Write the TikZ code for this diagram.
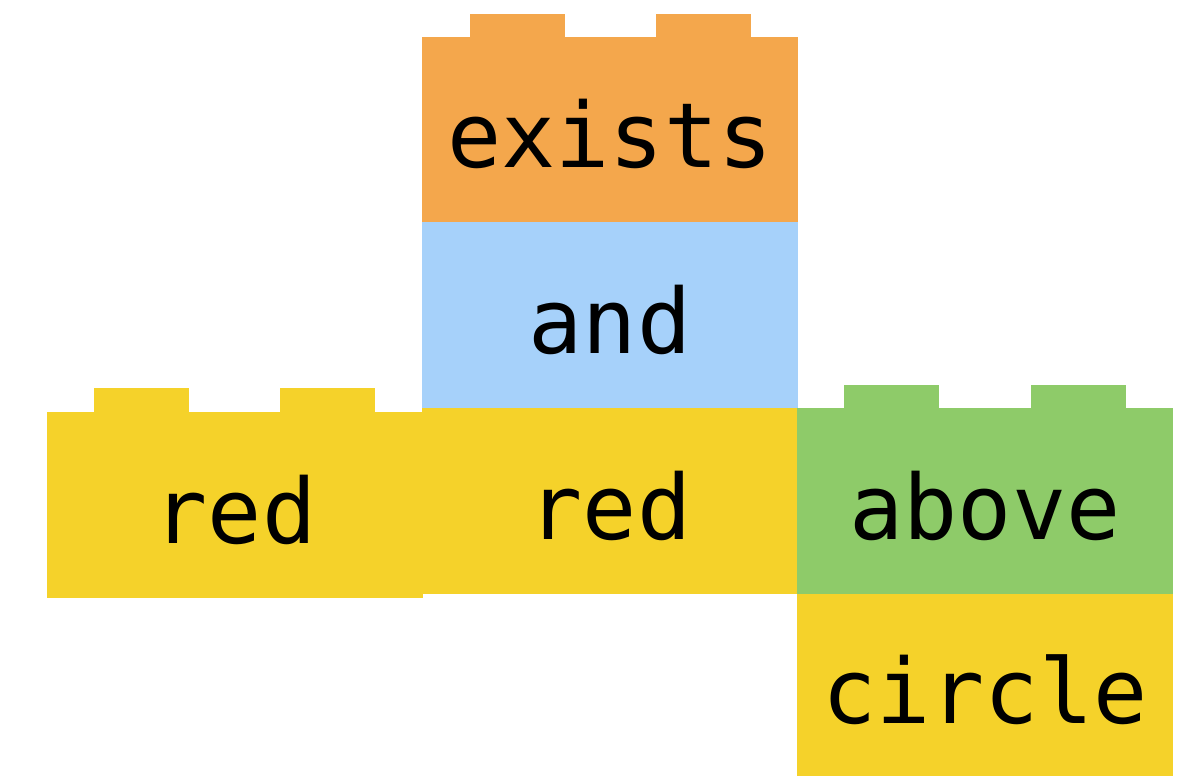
\documentclass[tikz,border=0pt]{standalone}
\usepackage{fontspec}
\setmonofont{DejaVu Sans Mono}
\definecolor{brickorange}{HTML}{F4A74C}
\definecolor{brickblue}{HTML}{A6D1FA}
\definecolor{brickyellow}{HTML}{F5D22A}
\definecolor{brickgreen}{HTML}{8ECB69}
\tikzset{
  brick/.style={rectangle, draw=none, inner sep=0pt, outer sep=0pt, minimum width=376pt, minimum height=186pt},
  lbl/.style={anchor=base, inner sep=0pt, yshift=-38pt, font=\ttfamily\fontsize{90}{90}\selectfont, text=black},
}
\begin{document}
\begin{tikzpicture}[x=1pt,y=-1pt]
\useasboundingbox (0,0) rectangle (1185,776);
% left red brick
\node[brick, fill=brickyellow] (red1) at (235,505) {};
\fill[brickyellow] (red1.north west) ++(47,0) rectangle ++(95,-24);
\fill[brickyellow] (red1.north west) ++(233,0) rectangle ++(95,-24);
% exists brick
\node[brick, fill=brickorange, minimum height=185pt] (exists) at (610,129.5) {};
\fill[brickorange] (exists.north west) ++(48,0) rectangle ++(95,-23);
\fill[brickorange] (exists.north west) ++(234,0) rectangle ++(95,-23);
% and brick
\node[brick, fill=brickblue] (and) at (610,315) {};
% middle red brick
\node[brick, fill=brickyellow] (red2) at (610,501) {};
% above brick
\node[brick, fill=brickgreen] (above) at (985,501) {};
\fill[brickgreen] (above.north west) ++(47,0) rectangle ++(95,-23);
\fill[brickgreen] (above.north west) ++(234,0) rectangle ++(95,-23);
% circle brick
\node[brick, fill=brickyellow, minimum height=182pt] (circle) at (985,685) {};
% labels
\node[lbl] (exists-t) at (exists.center) {exists};
\node[lbl] (and-t) at (and.center) {and};
\node[lbl] (red2-t) at (red2.center) {red};
\node[lbl] (red1-t) at (red1.center) {red};
\node[lbl] (above-t) at (above.center) {above};
\node[lbl] (circle-t) at (circle.center) {circle};
\end{tikzpicture}
\end{document}
